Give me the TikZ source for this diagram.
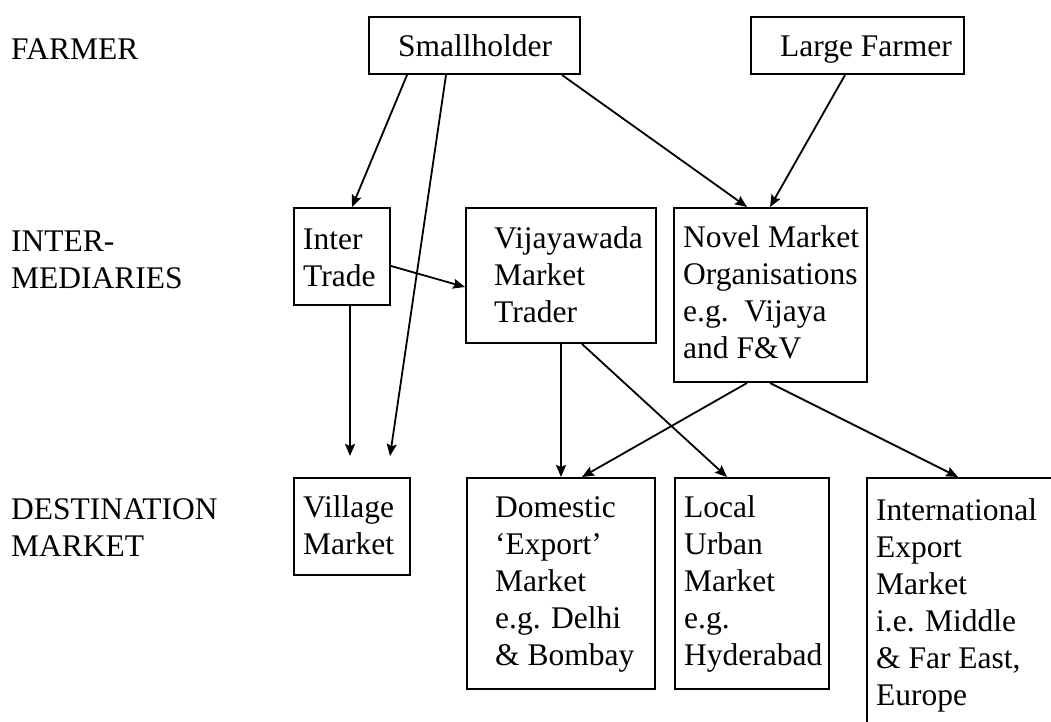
\documentclass[tikz,border=0pt]{standalone}
\usepackage{fontspec}
\setmainfont{Liberation Serif}
\usetikzlibrary{arrows.meta}
\newcommand\ml[1]{\begin{tabular}[t]{@{}l@{}}#1\end{tabular}}
\begin{document}
\begin{tikzpicture}[x=1pt,y=-1pt,
  box/.style={draw,line width=2pt,rectangle,inner sep=0pt,anchor=north west},
  txt/.style={anchor=base west,inner sep=0pt,font=\fontsize{31.5}{37}\selectfont},
  arr/.style={line width=1.8pt,-{Stealth[length=12pt,width=10pt,inset=2pt]}}]
\useasboundingbox (0,0) rectangle (1051,721);
\clip (0,0) rectangle (1051,721);
\fill[white] (0,0) rectangle (1051,721);
% row labels
\node[txt] (lfarm) at (11,59) {FARMER};
\node[txt] (linter) at (11,251) {\ml{INTER-\\MEDIARIES}};
\node[txt] (ldest) at (11,519) {\ml{DESTINATION\\MARKET}};
% boxes
\node[box,minimum width=211,minimum height=57] (sh) at (368,16) {};
\node[box,minimum width=213,minimum height=57] (lf) at (750,16) {};
\node[box,minimum width=96,minimum height=97] (it) at (293,207) {};
\node[box,minimum width=190,minimum height=135] (vj) at (465,207) {};
\node[box,minimum width=193,minimum height=174] (nv) at (673,207) {};
\node[box,minimum width=116,minimum height=97] (vm) at (293,477) {};
\node[box,minimum width=188,minimum height=211] (dm) at (466,477) {};
\node[box,minimum width=154,minimum height=211] (lc) at (674,477) {};
\node[box,minimum width=260,minimum height=300] (im) at (866,477) {};
% texts
\node[txt] (shT) at (398,56) {Smallholder};
\node[txt] (lfT) at (780,56) {Large Farmer};
\node[txt] (itT) at (303,249) {\ml{Inter\\Trade}};
\node[txt] (vjT) at (494,248) {\ml{Vijayawada\\Market\\Trader}};
\node[txt] (nvT) at (683,247) {\ml{Novel Market\\Organisations\\e.g.\ \ Vijaya\\and F\&V}};
\node[txt] (vmT) at (303,517) {\ml{Village\\Market}};
\node[txt] (dmT) at (495,517) {\ml{Domestic\\‘Export’\\Market\\e.g. Delhi\\\& Bombay}};
\node[txt] (lcT) at (684,517) {\ml{Local\\Urban\\Market\\e.g.\\Hyderabad}};
\node[txt] (imT) at (876,520) {\ml{International\\Export\\Market\\i.e. Middle\\\& Far East,\\Europe}};
% free ends
\coordinate (v1) at (350,456);
\coordinate (v2) at (390,456);
% connectors
\draw[arr] ([xshift=39]sh.south west) -- ([xshift=59]it.north west);
\draw[arr] ([xshift=78]sh.south west) -- (v2);
\draw[arr] ([xshift=194]sh.south west) -- ([xshift=74]nv.north west);
\draw[arr] ([xshift=95]lf.south west) -- ([xshift=97]nv.north west);
\draw[arr] ([yshift=-59]it.north east) -- ([yshift=-80]vj.north west);
\draw[arr] ([xshift=57]it.south west) -- (v1);
\draw[arr] ([xshift=96]vj.south west) -- ([xshift=95]dm.north west);
\draw[arr] ([xshift=117]vj.south west) -- ([xshift=53]lc.north west);
\draw[arr] ([xshift=74]nv.south west) -- ([xshift=116]dm.north west);
\draw[arr] ([xshift=97]nv.south west) -- ([xshift=92]im.north west);
\end{tikzpicture}
\end{document}
